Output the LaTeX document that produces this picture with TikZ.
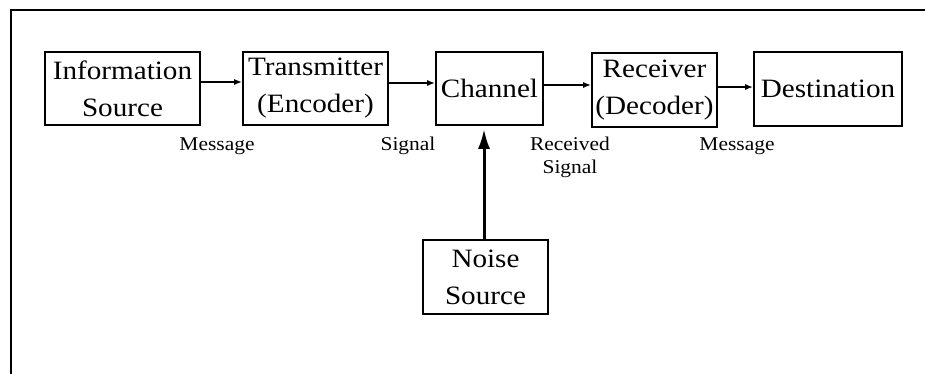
\documentclass[tikz,border=0pt]{standalone}
\usepackage{fontspec}
\setmainfont{Liberation Serif}[FakeStretch=1.1]
\usetikzlibrary{arrows.meta}
\begin{document}
\begin{tikzpicture}[x=1pt,y=-1pt,
  box/.style={draw,line width=1.6pt,inner sep=0pt,align=center,
    font=\fontsize{26.5}{37}\selectfont},
  lbl/.style={inner sep=0pt,anchor=base,align=center,
    font=\fontsize{19.5}{23}\selectfont},
  arr/.style={line width=1.5pt,-{Latex[length=8pt,width=6pt]}},
  bigarr/.style={line width=3pt,-{Latex[length=20pt,width=12pt]}},
  frame/.style={line width=1.8pt}]
\useasboundingbox (0,0) rectangle (925,374);

% outer frame (top and left rules)
\coordinate (fbl) at (11,374);
\coordinate (ftl) at (11,10);
\coordinate (ftr) at (925,10);
\draw[frame] (fbl) -- (ftl) -- (ftr);

% blocks
\node[box,minimum width=155pt,minimum height=73pt] (info)  at (122.5,88.5) {Information\\Source};
\node[box,minimum width=145pt,minimum height=73pt] (trans) at (315.5,88.5) {Transmitter\\(Encoder)};
\node[box,minimum width=107pt,minimum height=73pt] (chan)  at (489.5,88.5) {Channel};
\node[box,minimum width=125pt,minimum height=74pt] (recv)  at (654.5,90) {Receiver\\(Decoder)};
\node[box,minimum width=148pt,minimum height=74pt] (dest)  at (828,89) {Destination};
\node[box,minimum width=125pt,minimum height=74pt] (noise) at (485.5,277) {Noise\\Source};

% signal path
\draw[arr] ([yshift=6.5pt]info.east) -- ([yshift=6.5pt]trans.west);
\draw[arr] ([yshift=5.5pt]trans.east) -- ([yshift=5.5pt]chan.west);
\draw[arr] ([yshift=3.5pt]chan.east) -- ([yshift=5pt]recv.west);
\draw[arr] ([yshift=3pt]recv.east) -- ([yshift=2pt]dest.west);

% noise injection
\draw[bigarr] ([xshift=-1.5pt]noise.north) -- ([xshift=-5.5pt,yshift=-3pt]chan.south);

% path labels
\node[lbl] (m1) at (217,150) {Message};
\node[lbl] (s1) at (408,150) {Signal};
\node[lbl] (rs) at (570,173) {Received\\Signal};
\node[lbl] (m2) at (737,150) {Message};
\end{tikzpicture}
\end{document}
